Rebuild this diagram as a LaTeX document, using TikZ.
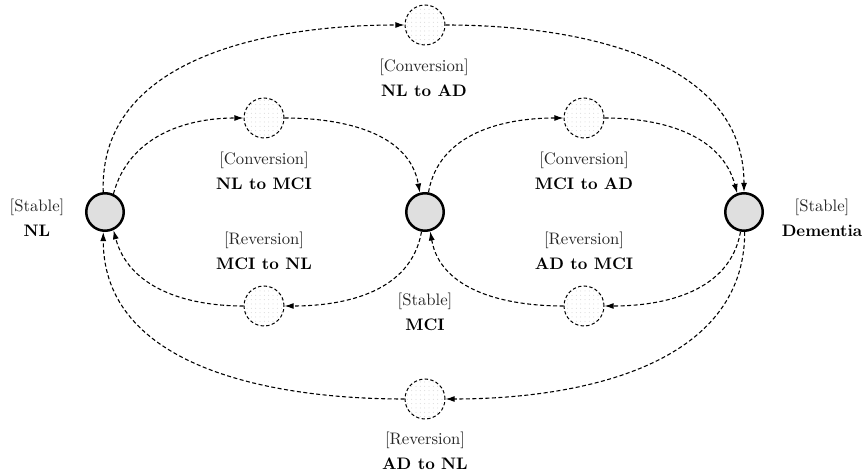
\documentclass[tikz,border=0pt]{standalone}
\usetikzlibrary{arrows.meta,patterns.meta}
\begin{document}
\begin{tikzpicture}[x=0.6pt,y=-0.6pt,
  state/.style={circle,draw=black,line width=1.5pt,fill=gray!25,minimum size=22.5pt,inner sep=0pt},
  trans/.style={circle,draw=black,dashed,dash pattern=on 2pt off 1.4pt,line width=0.6pt,minimum size=24pt,inner sep=0pt,
    preaction={fill=white},pattern={Dots[radius=0.3pt,distance=2.6pt]},pattern color=gray!35},
  lbl/.style={align=center,font=\normalsize,inner sep=0pt},
  conn/.style={dashed,dash pattern=on 2.4pt off 1.5pt,line width=0.65pt,-{Latex[length=5.5pt,width=3.6pt]}}]
\useasboundingbox (0,0) rectangle (863,473);
% states
\node[state] (nl) at (105,212) {};
\node[state] (mci) at (425,212) {};
\node[state] (dem) at (744,212) {};
% transition circles
\node[trans] (c1) at (425,25) {};
\node[trans] (c2) at (264,118) {};
\node[trans] (c3) at (584,118) {};
\node[trans] (r1) at (264,306) {};
\node[trans] (r2) at (584,306) {};
\node[trans] (r3) at (425,399) {};
% labels
\node[lbl] (lnl) at (37,218) {\textcolor{black!85}{[Stable]}\\[3pt]\textbf{NL}};
\node[lbl] (lmci) at (425,312) {\textcolor{black!85}{[Stable]}\\[3pt]\textbf{MCI}};
\node[lbl] (ldem) at (822,218) {\textcolor{black!85}{[Stable]}\\[3pt]\textbf{Dementia}};
\node[lbl] (lc1) at (424,78) {\textcolor{black!85}{[Conversion]}\\[3pt]\textbf{NL to AD}};
\node[lbl] (lc2) at (264,171) {\textcolor{black!85}{[Conversion]}\\[3pt]\textbf{NL to MCI}};
\node[lbl] (lc3) at (584,171) {\textcolor{black!85}{[Conversion]}\\[3pt]\textbf{MCI to AD}};
\node[lbl] (lr1) at (264,251) {\textcolor{black!85}{[Reversion]}\\[3pt]\textbf{MCI to NL}};
\node[lbl] (lr2) at (584,251) {\textcolor{black!85}{[Reversion]}\\[3pt]\textbf{AD to MCI}};
\node[lbl] (lr3) at (425,451) {\textcolor{black!85}{[Reversion]}\\[3pt]\textbf{AD to NL}};
% conversions
\draw[conn] (nl.95) to[out=92,in=180] (c1.west);
\draw[conn] (c1.east) to[out=0,in=90] (dem.90);
\draw[conn] (nl.65) to[out=75,in=180] (c2.west);
\draw[conn] (c2.east) to[out=0,in=100] (mci.105);
\draw[conn] (mci.80) to[out=80,in=180] (c3.west);
\draw[conn] (c3.east) to[out=0,in=105] (dem.110);
% reversions
\draw[conn] (mci.-100) to[out=-100,in=0] (r1.east);
\draw[conn] (r1.west) to[out=180,in=-75] (nl.-65);
\draw[conn] (dem.-100) to[out=-100,in=0] (r2.east);
\draw[conn] (r2.west) to[out=180,in=-80] (mci.-75);
\draw[conn] (dem.-88) to[out=-90,in=0] (r3.east);
\draw[conn] (r3.west) to[out=180,in=-90] (nl.-95);
\end{tikzpicture}
\end{document}
